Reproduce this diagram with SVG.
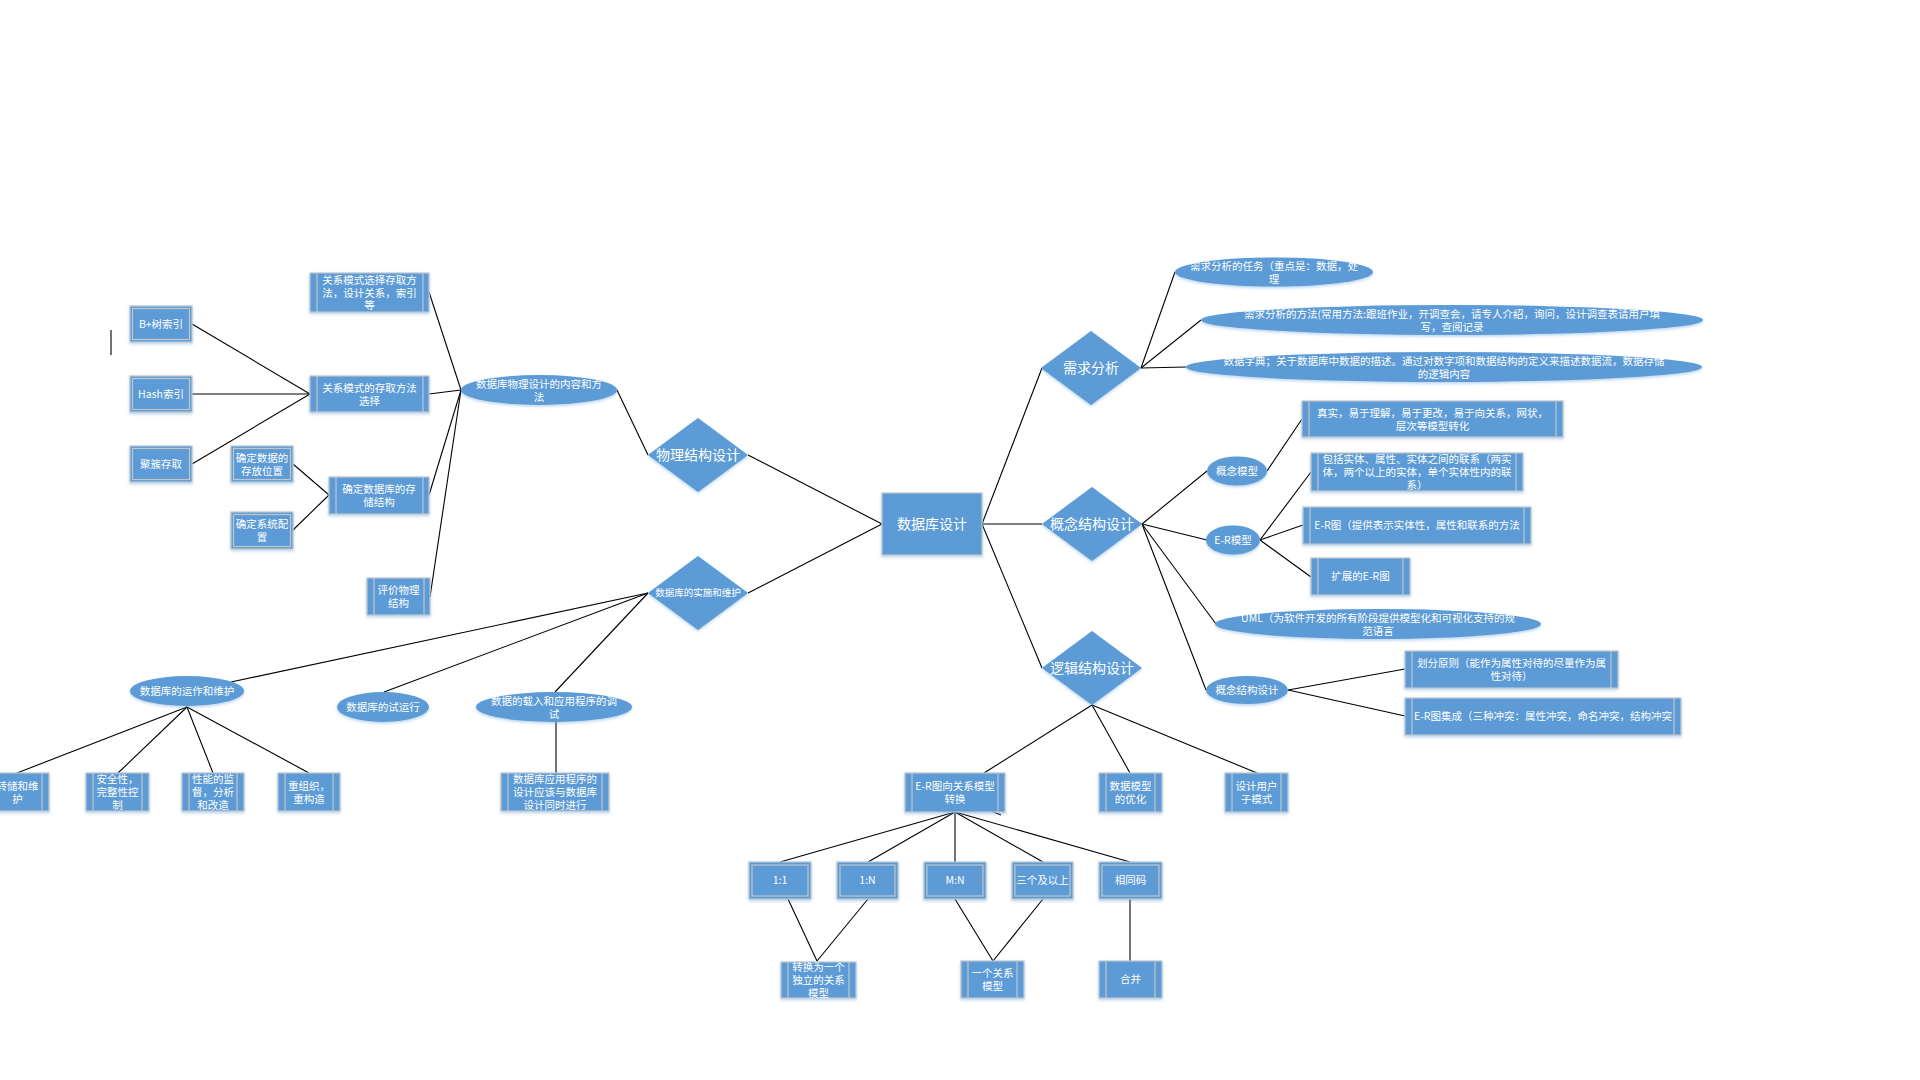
<svg xmlns="http://www.w3.org/2000/svg" width="1920" height="1080" viewBox="0 0 1920 1080">
<defs>
<filter id="sh" x="-10%" y="-20%" width="120%" height="150%">
<feDropShadow dx="0" dy="1.5" stdDeviation="1.5" flood-color="#5B9BD5" flood-opacity="0.45"/>
</filter>
<style>
.s{fill:#5B9BD5;stroke:#C0C6CC;stroke-width:1.2;filter:url(#sh)}
.e{fill:#5B9BD5;stroke:none;filter:url(#sh)}
.d{fill:#5B9BD5;stroke:none;filter:url(#sh)}
.il{fill:none;stroke:#C0C6CC;stroke-width:1.2}
.t{font-family:"Noto Sans CJK SC","Liberation Sans",sans-serif;font-size:10.5px;fill:#FFFFFF;text-anchor:middle;dominant-baseline:central;transform:translate(0px,-1px)}
.big{font-size:14px}
.sm{font-size:9.5px}
#connectors line{stroke:#000;stroke-width:1.1;fill:none}
</style>
</defs>
<rect x="0" y="0" width="1920" height="1080" fill="#FFFFFF"/>

<g id="connectors">
<line x1="192" y1="324" x2="310" y2="394"/>
<line x1="192" y1="394" x2="310" y2="394"/>
<line x1="192" y1="464" x2="310" y2="394"/>
<line x1="293" y1="464" x2="329" y2="495"/>
<line x1="293" y1="530" x2="329" y2="495"/>
<line x1="429" y1="292" x2="461" y2="390"/>
<line x1="429" y1="394" x2="461" y2="390"/>
<line x1="429" y1="495" x2="461" y2="390"/>
<line x1="430" y1="597" x2="461" y2="390"/>
<line x1="617" y1="390" x2="648" y2="455"/>
<line x1="748" y1="455" x2="882" y2="524"/>
<line x1="748" y1="593" x2="882" y2="524"/>
<line x1="648" y1="593" x2="231" y2="682"/>
<line x1="648" y1="593" x2="384" y2="692"/>
<line x1="648" y1="593" x2="555" y2="692"/>
<line x1="556" y1="722" x2="556" y2="773"/>
<line x1="187" y1="707" x2="17" y2="773"/>
<line x1="187" y1="707" x2="118" y2="773"/>
<line x1="187" y1="707" x2="213" y2="773"/>
<line x1="187" y1="707" x2="309" y2="773"/>
<line x1="982" y1="524" x2="1042" y2="368"/>
<line x1="982" y1="524" x2="1042" y2="524"/>
<line x1="982" y1="524" x2="1042" y2="668"/>
<line x1="1141" y1="368" x2="1175" y2="272"/>
<line x1="1141" y1="368" x2="1201" y2="320"/>
<line x1="1141" y1="368" x2="1186" y2="367"/>
<line x1="1142" y1="524" x2="1207" y2="471"/>
<line x1="1142" y1="524" x2="1207" y2="540"/>
<line x1="1142" y1="524" x2="1216" y2="624"/>
<line x1="1142" y1="524" x2="1206" y2="690"/>
<line x1="1267" y1="471" x2="1302" y2="419"/>
<line x1="1260" y1="540" x2="1311" y2="472"/>
<line x1="1260" y1="540" x2="1303" y2="525"/>
<line x1="1260" y1="540" x2="1311" y2="577"/>
<line x1="1288" y1="690" x2="1405" y2="669"/>
<line x1="1288" y1="690" x2="1405" y2="716"/>
<line x1="1092" y1="705" x2="984" y2="773"/>
<line x1="1092" y1="705" x2="1130" y2="773"/>
<line x1="1092" y1="705" x2="1257" y2="773"/>
<line x1="955" y1="812" x2="780" y2="862"/>
<line x1="955" y1="812" x2="868" y2="862"/>
<line x1="955" y1="812" x2="955" y2="862"/>
<line x1="955" y1="812" x2="1043" y2="862"/>
<line x1="955" y1="812" x2="1130" y2="862"/>
<line x1="788" y1="899" x2="817" y2="961"/>
<line x1="868" y1="899" x2="817" y2="961"/>
<line x1="955" y1="899" x2="993" y2="961"/>
<line x1="1043" y1="899" x2="993" y2="961"/>
<line x1="1130" y1="899" x2="1130" y2="961"/>
<line x1="991" y1="811" x2="1001" y2="815"/>
<line x1="111" y1="330" x2="111" y2="355"/>
</g>

<!-- physical design branch -->
<g id="n-gxms-xz">
<rect class="s" x="310" y="273" width="119" height="39"/>
<path class="il" d="M317,273V312M423,273V312"/>
<text class="t"><tspan x="369.5" y="280">关系模式选择存取方</tspan><tspan x="369.5" y="292.5">法，设计关系，索引</tspan><tspan x="369.5" y="305">等</tspan></text>
</g>
<g id="n-btree">
<rect class="s" x="130" y="306" width="62" height="36"/>
<rect class="il" x="132.5" y="308.5" width="57" height="31"/>
<text class="t" x="161" y="324">B+树索引</text>
</g>
<g id="n-hash">
<rect class="s" x="130" y="376" width="62" height="36"/>
<rect class="il" x="132.5" y="378.5" width="57" height="31"/>
<text class="t" x="161" y="394">Hash索引</text>
</g>
<g id="n-cluster">
<rect class="s" x="130" y="446" width="62" height="36"/>
<rect class="il" x="132.5" y="448.5" width="57" height="31"/>
<text class="t" x="161" y="464">聚簇存取</text>
</g>
<g id="n-cqff">
<rect class="s" x="310" y="376" width="119" height="36"/>
<path class="il" d="M317,376V412M423,376V412"/>
<text class="t"><tspan x="369.5" y="387.5">关系模式的存取方法</tspan><tspan x="369.5" y="400.5">选择</tspan></text>
</g>
<g id="n-wlnr">
<ellipse class="e" cx="539" cy="390" rx="78" ry="15"/>
<text class="t"><tspan x="539" y="383.5">数据库物理设计的内容和方</tspan><tspan x="539" y="396.5">法</tspan></text>
</g>
<g id="n-cfwz">
<rect class="s" x="231" y="446" width="62" height="36"/>
<rect class="il" x="233.5" y="448.5" width="57" height="31"/>
<text class="t"><tspan x="262" y="457.5">确定数据的</tspan><tspan x="262" y="470.5">存放位置</tspan></text>
</g>
<g id="n-xtpz">
<rect class="s" x="231" y="512" width="62" height="37"/>
<rect class="il" x="233.5" y="514.5" width="57" height="32"/>
<text class="t"><tspan x="262" y="524">确定系统配</tspan><tspan x="262" y="537">置</tspan></text>
</g>
<g id="n-ccjg">
<rect class="s" x="329" y="477" width="100" height="37"/>
<path class="il" d="M336,477V514M423,477V514"/>
<text class="t"><tspan x="379" y="489">确定数据库的存</tspan><tspan x="379" y="502">储结构</tspan></text>
</g>
<g id="n-pjwl">
<rect class="s" x="367" y="578" width="63" height="37"/>
<path class="il" d="M374,578V615M424,578V615"/>
<text class="t"><tspan x="398.5" y="590">评价物理</tspan><tspan x="398.5" y="603">结构</tspan></text>
</g>

<!-- diamonds and centre -->
<g id="n-wljg">
<polygon class="d" points="698,418 748,455 698,492 648,455"/>
<text class="t big" x="698" y="455">物理结构设计</text>
</g>
<g id="n-ssww">
<polygon class="d" points="698,556 748,593 698,630 648,593"/>
<text class="t sm" x="698" y="593">数据库的实施和维护</text>
</g>
<g id="n-center">
<rect class="s" x="882" y="493" width="100" height="62"/>
<text class="t big" x="932" y="524">数据库设计</text>
</g>
<g id="n-xqfx">
<polygon class="d" points="1091,331 1141,368 1091,405 1041,368"/>
<text class="t big" x="1091" y="368">需求分析</text>
</g>
<g id="n-gnjg">
<polygon class="d" points="1092,487 1142,524 1092,561 1042,524"/>
<text class="t big" x="1092" y="524">概念结构设计</text>
</g>
<g id="n-ljjg">
<polygon class="d" points="1092,631 1142,668 1092,705 1042,668"/>
<text class="t big" x="1092" y="668">逻辑结构设计</text>
</g>

<!-- implementation branch -->
<g id="n-yzww">
<ellipse class="e" cx="187" cy="691" rx="57" ry="15"/>
<text class="t" x="187" y="691">数据库的运作和维护</text>
</g>
<g id="n-syx">
<ellipse class="e" cx="383" cy="707" rx="46" ry="15"/>
<text class="t" x="383" y="707">数据库的试运行</text>
</g>
<g id="n-zrts">
<ellipse class="e" cx="554" cy="707" rx="78" ry="15"/>
<text class="t"><tspan x="554" y="700.5">数据的载入和应用程序的调</tspan><tspan x="554" y="713.5">试</tspan></text>
</g>
<g id="n-zcww">
<rect class="s" x="-14" y="773" width="63" height="38"/>
<path class="il" d="M-7,773V811M42,773V811"/>
<text class="t"><tspan x="17.5" y="785.5">转储和维</tspan><tspan x="17.5" y="798.5">护</tspan></text>
</g>
<g id="n-aqx">
<rect class="s" x="86" y="773" width="63" height="38"/>
<path class="il" d="M93,773V811M142,773V811"/>
<text class="t"><tspan x="117.5" y="779">安全性，</tspan><tspan x="117.5" y="792">完整性控</tspan><tspan x="117.5" y="805">制</tspan></text>
</g>
<g id="n-xnjd">
<rect class="s" x="182" y="773" width="62" height="38"/>
<path class="il" d="M189,773V811M237,773V811"/>
<text class="t"><tspan x="213" y="779">性能的监</tspan><tspan x="213" y="792">督，分析</tspan><tspan x="213" y="805">和改造</tspan></text>
</g>
<g id="n-czz">
<rect class="s" x="278" y="773" width="62" height="38"/>
<path class="il" d="M285,773V811M333,773V811"/>
<text class="t"><tspan x="309" y="785.5">重组织，</tspan><tspan x="309" y="798.5">重构造</tspan></text>
</g>
<g id="n-yycx">
<rect class="s" x="501" y="773" width="108" height="38"/>
<path class="il" d="M508,773V811M602,773V811"/>
<text class="t"><tspan x="555" y="779">数据库应用程序的</tspan><tspan x="555" y="792">设计应该与数据库</tspan><tspan x="555" y="805">设计同时进行</tspan></text>
</g>

<!-- logical branch -->
<g id="n-erzh">
<rect class="s" x="905" y="773" width="100" height="39"/>
<path class="il" d="M912,773V812M998,773V812"/>
<text class="t"><tspan x="955" y="786">E-R图向关系模型</tspan><tspan x="955" y="799">转换</tspan></text>
</g>
<g id="n-sjmxyh">
<rect class="s" x="1099" y="773" width="63" height="39"/>
<path class="il" d="M1106,773V812M1155,773V812"/>
<text class="t"><tspan x="1130.5" y="786">数据模型</tspan><tspan x="1130.5" y="799">的优化</tspan></text>
</g>
<g id="n-yhzms">
<rect class="s" x="1225" y="773" width="63" height="39"/>
<path class="il" d="M1232,773V812M1281,773V812"/>
<text class="t"><tspan x="1256.5" y="786">设计用户</tspan><tspan x="1256.5" y="799">子模式</tspan></text>
</g>
<g id="n-11">
<rect class="s" x="749" y="862" width="62" height="37"/>
<rect class="il" x="752" y="865" width="56" height="31"/>
<text class="t" x="780" y="880.5">1:1</text>
</g>
<g id="n-1n">
<rect class="s" x="837" y="862" width="61" height="37"/>
<rect class="il" x="840" y="865" width="55" height="31"/>
<text class="t" x="867.5" y="880.5">1:N</text>
</g>
<g id="n-mn">
<rect class="s" x="924" y="862" width="62" height="37"/>
<rect class="il" x="927" y="865" width="56" height="31"/>
<text class="t" x="955" y="880.5">M:N</text>
</g>
<g id="n-sgjys">
<rect class="s" x="1012" y="862" width="61" height="37"/>
<rect class="il" x="1015" y="865" width="55" height="31"/>
<text class="t" x="1042.5" y="880.5">三个及以上</text>
</g>
<g id="n-xtm">
<rect class="s" x="1099" y="862" width="63" height="37"/>
<rect class="il" x="1102" y="865" width="57" height="31"/>
<text class="t" x="1130.5" y="880.5">相同码</text>
</g>
<g id="n-dlgx">
<rect class="s" x="781" y="962" width="75" height="36"/>
<path class="il" d="M788,962V998M849,962V998"/>
<text class="t"><tspan x="818.5" y="967">转换为一个</tspan><tspan x="818.5" y="980">独立的关系</tspan><tspan x="818.5" y="993">模型</tspan></text>
</g>
<g id="n-ygmx">
<rect class="s" x="961" y="961" width="63" height="37"/>
<path class="il" d="M968,961V998M1017,961V998"/>
<text class="t"><tspan x="992.5" y="973">一个关系</tspan><tspan x="992.5" y="986">模型</tspan></text>
</g>
<g id="n-hb">
<rect class="s" x="1099" y="961" width="63" height="37"/>
<path class="il" d="M1106,961V998M1155,961V998"/>
<text class="t" x="1130.5" y="979.5">合并</text>
</g>

<!-- requirements branch -->
<g id="n-rw">
<ellipse class="e" cx="1274" cy="272" rx="99" ry="14.5"/>
<text class="t"><tspan x="1274" y="265.5">需求分析的任务（重点是：数据，处</tspan><tspan x="1274" y="278.5">理</tspan></text>
</g>
<g id="n-ff">
<ellipse class="e" cx="1452" cy="320" rx="251" ry="15"/>
<text class="t"><tspan x="1452" y="313.5">需求分析的方法(常用方法:跟班作业，开调查会，请专人介绍，询问，设计调查表请用户填</tspan><tspan x="1452" y="326.5">写，查阅记录</tspan></text>
</g>
<g id="n-zd">
<ellipse class="e" cx="1444" cy="367" rx="258" ry="15"/>
<text class="t"><tspan x="1444" y="360.5">数据字典；关于数据库中数据的描述。通过对数字项和数据结构的定义来描述数据流，数据存储</tspan><tspan x="1444" y="373.5">的逻辑内容</tspan></text>
</g>

<!-- conceptual branch -->
<g id="n-gnmx">
<ellipse class="e" cx="1237" cy="471" rx="30" ry="14.5"/>
<text class="t" x="1237" y="471">概念模型</text>
</g>
<g id="n-ermx">
<ellipse class="e" cx="1233" cy="540" rx="27" ry="14.5"/>
<text class="t" x="1233" y="540">E-R模型</text>
</g>
<g id="n-zs">
<rect class="s" x="1302" y="401" width="261" height="36"/>
<path class="il" d="M1309,401V437M1556,401V437"/>
<text class="t"><tspan x="1432.5" y="412.5">真实，易于理解，易于更改，易于向关系，网状，</tspan><tspan x="1432.5" y="425.5">层次等模型转化</tspan></text>
</g>
<g id="n-bkst">
<rect class="s" x="1311" y="453" width="212" height="38"/>
<path class="il" d="M1318,453V491M1516,453V491"/>
<text class="t"><tspan x="1417" y="459">包括实体、属性、实体之间的联系（两实</tspan><tspan x="1417" y="472">体，两个以上的实体，单个实体性内的联</tspan><tspan x="1417" y="485">系）</tspan></text>
</g>
<g id="n-ert">
<rect class="s" x="1303" y="507" width="228" height="37"/>
<path class="il" d="M1310,507V544M1524,507V544"/>
<text class="t" x="1417" y="525.5">E-R图（提供表示实体性，属性和联系的方法</text>
</g>
<g id="n-kzer">
<rect class="s" x="1311" y="558" width="99" height="37"/>
<path class="il" d="M1318,558V595M1403,558V595"/>
<text class="t" x="1360.5" y="576.5">扩展的E-R图</text>
</g>
<g id="n-uml">
<ellipse class="e" cx="1378" cy="624" rx="163" ry="15"/>
<text class="t"><tspan x="1378" y="617.5">UML（为软件开发的所有阶段提供模型化和可视化支持的规</tspan><tspan x="1378" y="630.5">范语言</tspan></text>
</g>
<g id="n-gnjgsj">
<ellipse class="e" cx="1247" cy="690" rx="41" ry="14"/>
<text class="t" x="1247" y="690">概念结构设计</text>
</g>
<g id="n-hfyz">
<rect class="s" x="1405" y="651" width="213" height="37"/>
<path class="il" d="M1412,651V688M1611,651V688"/>
<text class="t"><tspan x="1511.5" y="663">划分原则（能作为属性对待的尽量作为属</tspan><tspan x="1511.5" y="676">性对待）</tspan></text>
</g>
<g id="n-erjc">
<rect class="s" x="1405" y="698" width="276" height="37"/>
<path class="il" d="M1412,698V735M1674,698V735"/>
<text class="t" x="1543" y="716.5">E-R图集成（三种冲突：属性冲突，命名冲突，结构冲突</text>
</g>
</svg>
